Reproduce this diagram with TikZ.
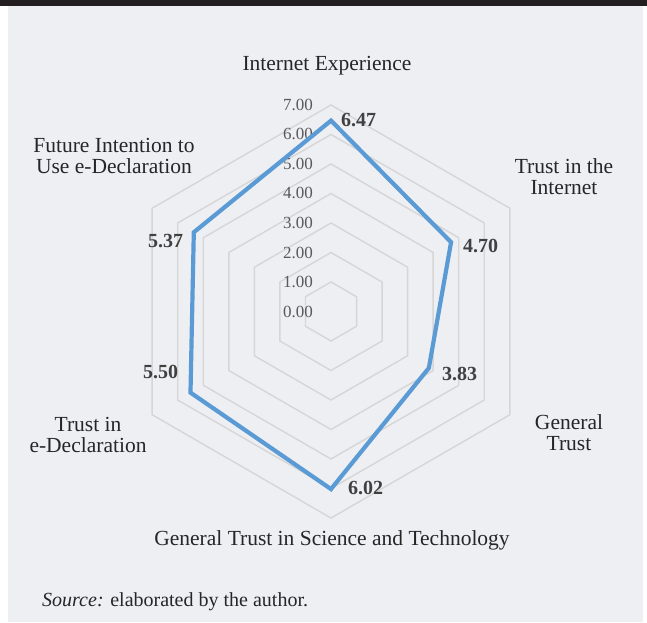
\documentclass[tikz,border=0pt]{standalone}
\usepackage{fontspec}
\setmainfont{Liberation Serif}
\usetikzlibrary{calc}
\definecolor{bgc}{RGB}{238,239,243}
\definecolor{barc}{RGB}{35,31,32}
\definecolor{gridc}{RGB}{214,214,214}
\definecolor{datac}{RGB}{91,155,213}
\definecolor{tickc}{RGB}{89,89,89}
\definecolor{valc}{RGB}{64,64,64}
\definecolor{catc}{RGB}{38,38,38}
\begin{document}
\begin{tikzpicture}[x=1pt,y=1pt,
  cat/.style={font=\fontsize{21.5}{21}\selectfont, text=catc, align=center, inner sep=0pt, anchor=base},
  val/.style={font=\fontsize{20}{20}\selectfont\bfseries, text=valc, inner sep=0pt, anchor=base west},
  tick/.style={font=\fontsize{17}{17}\selectfont, text=tickc, inner sep=0pt, anchor=base east},
  gridline/.style={draw=gridc, line width=1.4pt, line join=miter},
  dataline/.style={draw=datac, line width=4.2pt, line join=miter}]
\useasboundingbox (0,0) rectangle (647,622);
\fill[white] (0,0) rectangle (647,622);
\fill[bgc] (8,0) rectangle (643,616);
\fill[barc] (0,616) rectangle (647,622);
\coordinate (C) at (331,310.5);
% grid
\foreach \k in {1,...,7}{
  \draw[gridline] ($(C)+(90:29.5*\k)$) -- ($(C)+(30:29.5*\k)$) -- ($(C)+(-30:29.5*\k)$) -- ($(C)+(-90:29.5*\k)$) -- ($(C)+(-150:29.5*\k)$) -- ($(C)+(150:29.5*\k)$) -- cycle;
}
% ticks
\foreach \k in {0,...,7}{
  \node[tick] (t\k) at (313,{305+29.5*\k}) {\k.00};
}
% data
\coordinate (p1) at ($(C)+(90:6.47*29.5)$);
\coordinate (p2) at ($(C)+(30:4.70*29.5)$);
\coordinate (p3) at ($(C)+(-30:3.83*29.5)$);
\coordinate (p4) at ($(C)+(-90:6.02*29.5)$);
\coordinate (p5) at ($(C)+(-150:5.50*29.5)$);
\coordinate (p6) at ($(C)+(150:5.37*29.5)$);
\draw[dataline] (p1) -- (p2) -- (p3) -- (p4) -- (p5) -- (p6) -- cycle;
% value labels
\node[val] (v1) at (341,495) {6.47};
\node[val] (v2) at (463,370) {4.70};
\node[val] (v3) at (442,242) {3.83};
\node[val] (v4) at (348,128) {6.02};
\node[val] (v5) at (143,244) {5.50};
\node[val] (v6) at (148,374) {5.37};
% category labels (base = last line)
\node[cat] (c1) at (327,551) {Internet Experience};
\node[cat] (c2) at (564,427) {Trust in the\\Internet};
\node[cat] (c3) at (569,172) {General\\Trust};
\node[cat] (c4) at (332,77) {General Trust in Science and Technology};
\node[cat] (c5) at (88,170) {Trust in\\e-Declaration};
\node[cat] (c6) at (114,448) {Future Intention to\\Use e-Declaration};
% source
\node[font=\fontsize{20}{20}\selectfont, text=catc, inner sep=0pt, anchor=base west] (src) at (42,16) {\textit{Source:} elaborated by the author.};
\end{tikzpicture}
\end{document}
